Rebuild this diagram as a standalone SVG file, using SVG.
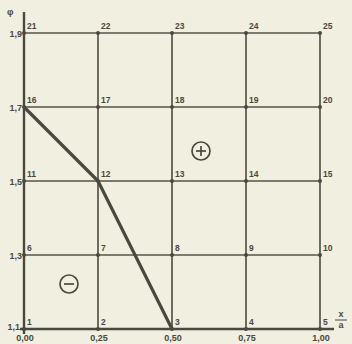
<svg xmlns="http://www.w3.org/2000/svg" width="352" height="344" viewBox="0 0 352 344">
<style>
.g{stroke:#55544a;stroke-width:1.7;fill:none}
.ax{stroke:#4a493f;stroke-width:2.4;fill:none}
.d{stroke:#4a493f;stroke-width:3.2;fill:none;stroke-linejoin:round}
.n{font-family:"Liberation Sans",Arial,sans-serif;font-size:8.5px;font-weight:bold;fill:#4a493f}
.t{font-family:"Liberation Sans",Arial,sans-serif;font-size:9px;font-weight:bold;fill:#4a493f}
.dot{fill:#4a493f}
.c{stroke:#4a493f;stroke-width:1.7;fill:none}
</style>
<rect width="352" height="344" fill="#f1efdf"/>
<g id="grid">
<line class="g" x1="24" y1="33" x2="320" y2="33"/>
<line class="g" x1="24" y1="107" x2="320" y2="107"/>
<line class="g" x1="24" y1="181" x2="320" y2="181"/>
<line class="g" x1="24" y1="255" x2="320" y2="255"/>
<line class="g" x1="98" y1="33" x2="98" y2="329"/>
<line class="g" x1="172" y1="33" x2="172" y2="329"/>
<line class="g" x1="246" y1="33" x2="246" y2="329"/>
<line class="g" x1="320" y1="33" x2="320" y2="329"/>
<line class="ax" x1="24" y1="12" x2="24" y2="334"/>
<line class="ax" x1="20" y1="329" x2="334" y2="329"/>
</g>
<g id="connectors">
<polyline class="d" points="24,107 98,181 172,329"/>
</g>
<g id="nodes">
<g id="n1"><circle class="dot" cx="24" cy="329" r="2"/><text class="n" x="27" y="325">1</text></g>
<g id="n2"><circle class="dot" cx="98" cy="329" r="2"/><text class="n" x="101" y="325">2</text></g>
<g id="n3"><circle class="dot" cx="172" cy="329" r="2"/><text class="n" x="175" y="325">3</text></g>
<g id="n4"><circle class="dot" cx="246" cy="329" r="2"/><text class="n" x="249" y="325">4</text></g>
<g id="n5"><circle class="dot" cx="320" cy="329" r="2"/><text class="n" x="323" y="325">5</text></g>
<g id="n6"><circle class="dot" cx="24" cy="255" r="2"/><text class="n" x="27" y="251">6</text></g>
<g id="n7"><circle class="dot" cx="98" cy="255" r="2"/><text class="n" x="101" y="251">7</text></g>
<g id="n8"><circle class="dot" cx="172" cy="255" r="2"/><text class="n" x="175" y="251">8</text></g>
<g id="n9"><circle class="dot" cx="246" cy="255" r="2"/><text class="n" x="249" y="251">9</text></g>
<g id="n10"><circle class="dot" cx="320" cy="255" r="2"/><text class="n" x="323" y="251">10</text></g>
<g id="n11"><circle class="dot" cx="24" cy="181" r="2"/><text class="n" x="27" y="177">11</text></g>
<g id="n12"><circle class="dot" cx="98" cy="181" r="2"/><text class="n" x="101" y="177">12</text></g>
<g id="n13"><circle class="dot" cx="172" cy="181" r="2"/><text class="n" x="175" y="177">13</text></g>
<g id="n14"><circle class="dot" cx="246" cy="181" r="2"/><text class="n" x="249" y="177">14</text></g>
<g id="n15"><circle class="dot" cx="320" cy="181" r="2"/><text class="n" x="323" y="177">15</text></g>
<g id="n16"><circle class="dot" cx="24" cy="107" r="2"/><text class="n" x="27" y="103">16</text></g>
<g id="n17"><circle class="dot" cx="98" cy="107" r="2"/><text class="n" x="101" y="103">17</text></g>
<g id="n18"><circle class="dot" cx="172" cy="107" r="2"/><text class="n" x="175" y="103">18</text></g>
<g id="n19"><circle class="dot" cx="246" cy="107" r="2"/><text class="n" x="249" y="103">19</text></g>
<g id="n20"><circle class="dot" cx="320" cy="107" r="2"/><text class="n" x="323" y="103">20</text></g>
<g id="n21"><circle class="dot" cx="24" cy="33" r="2"/><text class="n" x="27" y="29">21</text></g>
<g id="n22"><circle class="dot" cx="98" cy="33" r="2"/><text class="n" x="101" y="29">22</text></g>
<g id="n23"><circle class="dot" cx="172" cy="33" r="2"/><text class="n" x="175" y="29">23</text></g>
<g id="n24"><circle class="dot" cx="246" cy="33" r="2"/><text class="n" x="249" y="29">24</text></g>
<g id="n25"><circle class="dot" cx="320" cy="33" r="2"/><text class="n" x="323" y="29">25</text></g>
</g>
<g id="plus"><circle class="c" cx="201" cy="151" r="9"/><line class="c" x1="196" y1="151" x2="206" y2="151"/><line class="c" x1="201" y1="146" x2="201" y2="156"/></g>
<g id="minus"><circle class="c" cx="69" cy="284" r="9"/><line class="c" x1="64" y1="284" x2="74" y2="284"/></g>
<g id="axis-labels">
<text class="t" x="7" y="15" font-size="10">φ</text>
<text class="t" x="22" y="37" text-anchor="end">1,9</text>
<text class="t" x="22" y="111" text-anchor="end">1,7</text>
<text class="t" x="22" y="185" text-anchor="end">1,5</text>
<text class="t" x="22" y="259" text-anchor="end">1,3</text>
<text class="t" x="20" y="330" text-anchor="end">1,1</text>
<text class="t" x="25" y="341" text-anchor="middle">0,00</text>
<text class="t" x="99" y="341" text-anchor="middle">0,25</text>
<text class="t" x="173" y="341" text-anchor="middle">0,50</text>
<text class="t" x="247" y="341" text-anchor="middle">0,75</text>
<text class="t" x="321" y="341" text-anchor="middle">1,00</text>
<text class="t" x="341" y="317" text-anchor="middle">x</text>
<line x1="335" y1="320" x2="347" y2="320" stroke="#4a493f" stroke-width="1"/>
<text class="t" x="341" y="328" text-anchor="middle">a</text>
</g>
</svg>
